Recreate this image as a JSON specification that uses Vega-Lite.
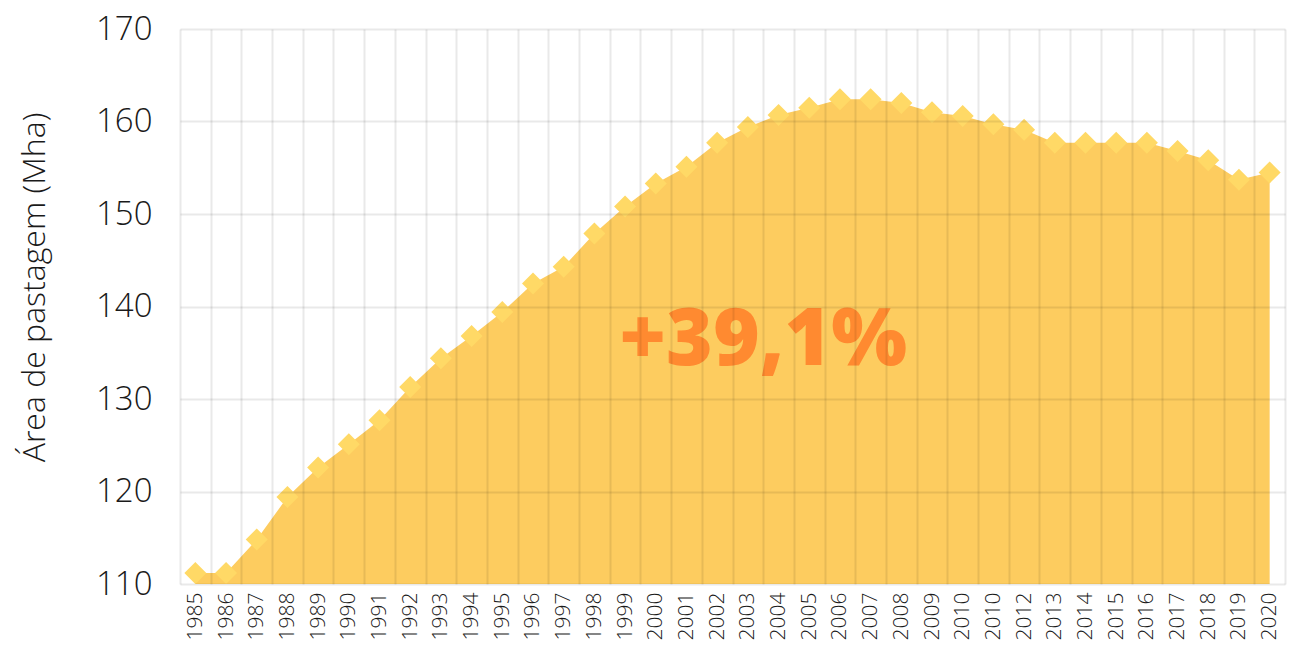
{
  "$schema": "https://vega.github.io/schema/vega-lite/v6.json",
  "width": 1105,
  "height": 555,
  "autosize": {"type": "none"},
  "padding": {"left": 180, "top": 29, "right": 24, "bottom": 67},
  "config": {
    "view": {"stroke": null},
    "font": "Open Sans",
    "axis": {"labelFont": "Open Sans", "titleFont": "Open Sans"}
  },
  "datasets": {
    "pastagem": [
      {"ano": 1985, "valor": 111.2},
      {"ano": 1986, "valor": 111.2},
      {"ano": 1987, "valor": 114.8},
      {"ano": 1988, "valor": 119.4},
      {"ano": 1989, "valor": 122.6},
      {"ano": 1990, "valor": 125.1},
      {"ano": 1991, "valor": 127.7},
      {"ano": 1992, "valor": 131.3},
      {"ano": 1993, "valor": 134.4},
      {"ano": 1994, "valor": 136.8},
      {"ano": 1995, "valor": 139.4},
      {"ano": 1996, "valor": 142.5},
      {"ano": 1997, "valor": 144.3},
      {"ano": 1998, "valor": 147.9},
      {"ano": 1999, "valor": 150.8},
      {"ano": 2000, "valor": 153.3},
      {"ano": 2001, "valor": 155.1},
      {"ano": 2002, "valor": 157.7},
      {"ano": 2003, "valor": 159.4},
      {"ano": 2004, "valor": 160.7},
      {"ano": 2005, "valor": 161.5},
      {"ano": 2006, "valor": 162.4},
      {"ano": 2007, "valor": 162.4},
      {"ano": 2008, "valor": 162.0},
      {"ano": 2009, "valor": 161.0},
      {"ano": 2010, "valor": 160.6},
      {"ano": 2011, "valor": 159.7},
      {"ano": 2012, "valor": 159.1},
      {"ano": 2013, "valor": 157.7},
      {"ano": 2014, "valor": 157.7},
      {"ano": 2015, "valor": 157.7},
      {"ano": 2016, "valor": 157.7},
      {"ano": 2017, "valor": 156.8},
      {"ano": 2018, "valor": 155.8},
      {"ano": 2019, "valor": 153.7},
      {"ano": 2020, "valor": 154.5}
    ],
    "rotulo": [
      {"ano": 2003, "valor": 136.3, "texto": "+39,1%"}
    ]
  },
  "encoding": {
    "x": {
      "field": "ano",
      "type": "ordinal",
      "bandPosition": 0.5,
      "scale": {"type": "band", "paddingInner": 0, "paddingOuter": 0},
      "axis": {
        "title": null,
        "labelAngle": 270,
        "labelFontSize": 21,
        "labelFontWeight": 300,
        "labelColor": "#1a1a1a",
        "labelPadding": 8,
        "labelExpr": "datum.value == 2011 ? '2010' : datum.label",
        "ticks": false,
        "domain": false,
        "grid": true,
        "tickBand": "extent",
        "gridColor": "#000000",
        "gridOpacity": 0.085,
        "gridWidth": 2,
        "zindex": 1
      }
    },
    "y": {
      "field": "valor",
      "type": "quantitative",
      "scale": {"domain": [110, 170], "nice": false, "zero": false},
      "axis": {
        "title": "Área de pastagem (Mha)",
        "titleFontSize": 32,
        "titleFontWeight": 300,
        "titleColor": "#1a1a1a",
        "titlePadding": 44,
        "titleY": 258,
        "values": [110, 120, 130, 140, 150, 160, 170],
        "labelFontSize": 33,
        "labelFontWeight": 300,
        "labelColor": "#1a1a1a",
        "labelPadding": 28,
        "ticks": false,
        "domain": false,
        "grid": true,
        "gridColor": "#000000",
        "gridOpacity": 0.085,
        "gridWidth": 2,
        "zindex": 1
      }
    }
  },
  "layer": [
    {
      "data": {"name": "pastagem"},
      "mark": {"type": "area", "color": "#FDCC5F", "opacity": 1},
      "encoding": {"y2": {"datum": 110}}
    },
    {
      "data": {"name": "pastagem"},
      "mark": {"type": "point", "shape": "diamond", "filled": true, "size": 484, "color": "#FFD966", "opacity": 1}
    },
    {
      "data": {"name": "rotulo"},
      "mark": {"type": "text", "fontSize": 80, "fontWeight": 800, "color": "#FF8A30", "align": "center", "baseline": "middle"},
      "encoding": {
        "x": {"field": "ano", "type": "ordinal", "bandPosition": 1},
        "text": {"field": "texto"}
      }
    }
  ]
}
